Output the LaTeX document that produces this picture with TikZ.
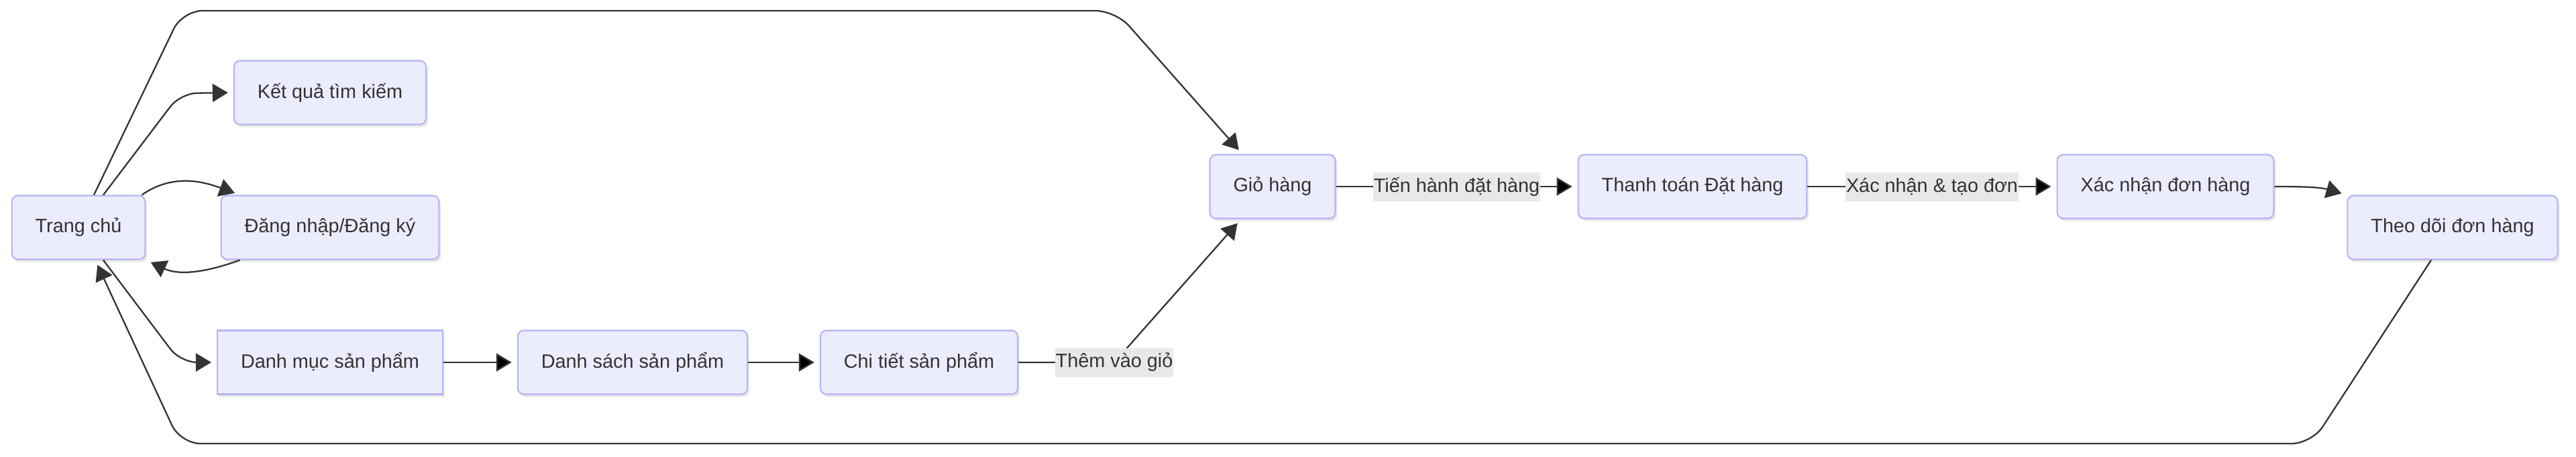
\documentclass[tikz,border=0pt]{standalone}
\usepackage{fontspec}
\setmainfont{Liberation Sans}
\usetikzlibrary{positioning,arrows.meta,shadows}
\definecolor{pagefill}{HTML}{ECECFF}
\definecolor{pageline}{HTML}{B4B4F4}
\definecolor{flowline}{HTML}{333333}
\definecolor{lblfill}{HTML}{E8E8E8}

\begin{document}
\begin{tikzpicture}[shorten >=0.08cm,node distance=4cm,on grid,
    >={Triangle[length=0.23cm,width=0.27cm]},
    font=\fontsize{8.2}{10}\selectfont, text=flowline,
    page/.style={draw=pageline, fill=pagefill, line width=0.6pt, rounded corners=0.09cm,
      minimum height=0.95cm, inner xsep=0.35cm,
      drop shadow={opacity=0.18, shadow xshift=0.03cm, shadow yshift=-0.04cm}},
    flat/.style={page, rounded corners=0pt},
    lbl/.style={fill=lblfill, rounded corners=0pt, inner xsep=0.01cm, inner ysep=0pt, minimum height=0.43cm},
    flow/.style={draw=flowline, line width=0.65pt}]
    \useasboundingbox (0,0) rectangle (38.4,-6.8);
    % nodes
    \node[page] (trang) at (1.17,-3.39) {Trang chủ};
    \node[page] (dangnhap) [right=3.75cm of trang] {Đăng nhập/Đăng ký};
    \node[page] (ketqua) [above=2.01cm of dangnhap] {Kết quả tìm kiếm};
    \node[flat] (danhmuc) [below=2.01cm of dangnhap] {Danh mục sản phẩm};
    \node[page] (danhsach) [right=4.51cm of danhmuc] {Danh sách sản phẩm};
    \node[page] (chitiet) [right=4.27cm of danhsach] {Chi tiết sản phẩm};
    \node[page] (giohang) [above right=2.62cm and 5.27cm of chitiet] {Giỏ hàng};
    \node[page] (thanhtoan) [right=6.26cm of giohang] {Thanh toán Đặt hàng};
    \node[page] (xacnhan) [right=7.05cm of thanhtoan] {Xác nhận đơn hàng};
    \node[page] (theodoi) [below right=0.61cm and 4.28cm of xacnhan] {Theo dõi đơn hàng};
    % bends
    \coordinate (topL) at (2.72,-0.16);
    \coordinate (topR) at (16.63,-0.16);
    \coordinate (botL) at (2.69,-6.61);
    \coordinate (botR) at (34.46,-6.61);
    \coordinate (ketqA) at (2.69,-1.39);
    \coordinate (danhA) at (2.69,-5.40);
    \coordinate (thembend) at (16.61,-5.40);
    % links
    \draw[flow,->,rounded corners=0.25cm] ([xshift=0.37cm]trang.north) -- (ketqA) -- (ketqua.west);
    \draw[flow,->,rounded corners=0.25cm] ([xshift=0.37cm]trang.south) -- (danhA) -- (danhmuc.west);
    \draw[flow,->] ([xshift=-0.06cm]trang.north east) to[out=35,in=160] ([xshift=0.29cm]dangnhap.north west);
    \draw[flow,->] ([xshift=0.29cm]dangnhap.south west) to[out=200,in=-25] (trang.south east);
    \draw[flow,->,rounded corners=0.3cm] ([xshift=0.23cm]trang.north) -- (topL) -- (topR) -- ([xshift=-0.45cm]giohang.north);
    \path[flow,->] (danhmuc) edge (danhsach)
      (danhsach) edge (chitiet)
      (giohang) edge node[lbl] {Tiến hành đặt hàng} (thanhtoan)
      (thanhtoan) edge node[lbl] {Xác nhận \& tạo đơn} (xacnhan);
    \draw[flow,->,rounded corners=0.15cm] (chitiet.east) -- (thembend) node[lbl] {Thêm vào giỏ} -- ([xshift=-0.47cm]giohang.south);
    \draw[flow,->] (xacnhan.east) to[out=0,in=164] (theodoi.north west);
    \draw[flow,->,rounded corners=0.3cm] ([xshift=-0.32cm]theodoi.south) -- (botR) -- (botL) -- ([xshift=0.25cm]trang.south);
\end{tikzpicture}
\end{document}
